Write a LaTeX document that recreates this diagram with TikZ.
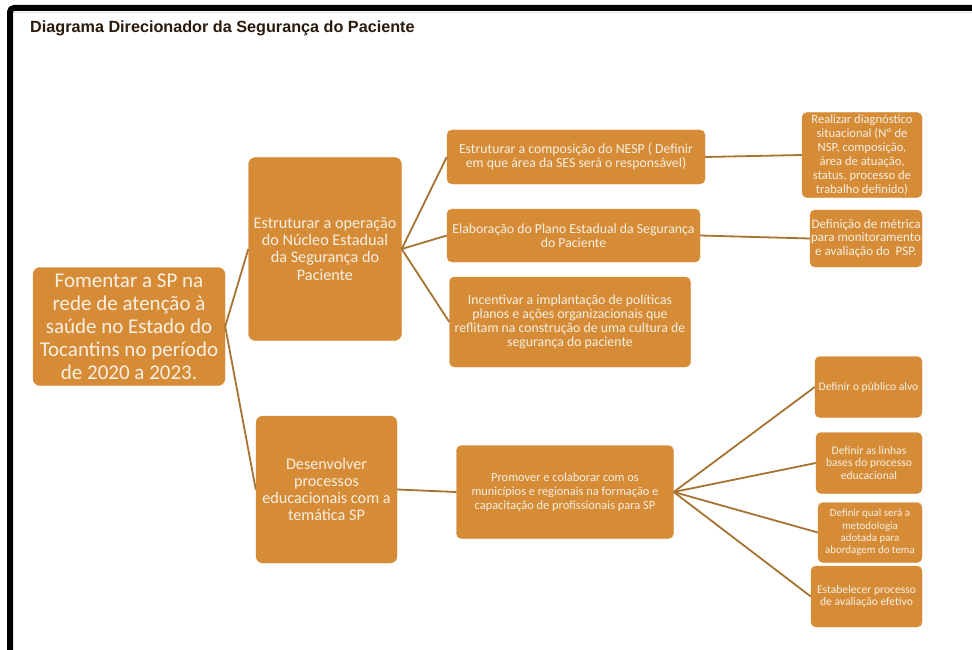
\documentclass[tikz,border=0pt]{standalone}
\usepackage{fontspec}
\setmainfont{Carlito}
\newfontfamily\titlefont{Liberation Sans}
\definecolor{boxfill}{HTML}{D68C37}
\definecolor{boxtext}{HTML}{F6EFE2}
\definecolor{linkcol}{HTML}{A67332}
\definecolor{titlecol}{HTML}{2A1A0C}
\tikzset{
  card/.style={rectangle, fill=boxfill, draw=boxfill, rounded corners=7pt,
    inner sep=0pt, align=center, text=boxtext},
  bigcard/.style={card, font=\fontsize{21}{23}\selectfont},
  midcard/.style={card, font=\fontsize{16.2}{17.2}\selectfont},
  textcard/.style={card, rounded corners=5pt, font=\fontsize{13.8}{14}\selectfont},
  promocard/.style={card, rounded corners=5pt, font=\fontsize{12.4}{14}\selectfont},
  leafcard/.style={card, rounded corners=5pt, font=\fontsize{12.6}{14}\selectfont},
  metrcard/.style={card, rounded corners=5pt, font=\fontsize{13}{13.5}\selectfont},
  tinycard/.style={card, rounded corners=5pt, font=\fontsize{11.6}{12.6}\selectfont},
  methcard/.style={card, rounded corners=5pt, font=\fontsize{10.9}{12.4}\selectfont},
  link/.style={draw=linkcol, line width=1.8pt},
}
\begin{document}
\begin{tikzpicture}[x=1pt, y=-1pt]
\useasboundingbox (0,0) rectangle (972,650);
\fill[white] (0,0) rectangle (972,650);

% frame
\draw[line width=6pt, black, rounded corners=4pt] (10,650) -- (10,8) -- (972,8);
\draw[black!12, line width=0.8pt] (13,12) -- (972,12);

% title
\node[anchor=base west, inner sep=0pt, text=titlecol,
      font=\titlefont\bfseries\fontsize{16.2}{19}\selectfont] (title) at (30,33)
  {Diagrama Direcionador da Segurança do Paciente};

% level 1
\node[bigcard, minimum width=192pt, minimum height=118pt] (root) at (129,326.5)
  {Fomentar a SP na\\rede de atenção à\\saúde no Estado do\\Tocantins no período\\de 2020 a 2023.};

% level 2
\node[midcard, minimum width=153pt, minimum height=183pt] (oper) at (325,249)
  {Estruturar a operação\\do Núcleo Estadual\\da Segurança do\\Paciente};
\node[midcard, minimum width=141pt, minimum height=147pt] (educ) at (326.5,489.5)
  {Desenvolver\\processos\\educacionais com a\\temática SP};

% level 3
\node[textcard, minimum width=258pt, minimum height=54pt] (nesp) at (576,157)
  {Estruturar a composição do NESP ( Definir\\em que área da SES será o responsável)};
\node[textcard, minimum width=253pt, minimum height=53pt] (plano) at (573.5,235.5)
  {Elaboração do Plano Estadual da Segurança\\do Paciente};
\node[textcard, minimum width=241pt, minimum height=90pt] (incent) at (570,322)
  {Incentivar a implantação de políticas\\planos e ações organizacionais que\\reflitam na construção de uma cultura de\\segurança do paciente};
\node[promocard, minimum width=217pt, minimum height=93pt] (promo) at (565,492)
  {Promover e colaborar com os\\municípios e regionais na formação e\\capacitação de profissionais para SP};

% level 4
\node[leafcard, minimum width=120pt, minimum height=85pt] (diag) at (862,155)
  {Realizar diagnóstico\\situacional (Nº de\\NSP, composição,\\área de atuação,\\status, processo de\\trabalho definido)};
\node[metrcard, minimum width=112pt, minimum height=57pt] (metr) at (866,238.5)
  {Definição de métrica\\para monitoramento\\e avaliação do\ \ PSP.};
\node[tinycard, minimum width=107pt, minimum height=61pt] (publ) at (868.5,387)
  {Definir o público alvo};
\node[tinycard, minimum width=106pt, minimum height=61pt] (linh) at (869,463)
  {Definir as linhas\\bases do processo\\educacional};
\node[methcard, minimum width=104pt, minimum height=60pt] (meto) at (870,532.5)
  {Definir qual será a\\metodologia\\adotada para\\abordagem do tema};
\node[tinycard, minimum width=111pt, minimum height=61pt] (aval) at (866.5,596.5)
  {Estabelecer processo\\de avaliação efetivo};

% connectors
\draw[link] (root.east) -- (oper.west);
\draw[link] (root.east) -- (educ.west);
\draw[link] (oper.east) -- (nesp.west);
\draw[link] (oper.east) -- (plano.west);
\draw[link] (oper.east) -- (incent.west);
\draw[link] (educ.east) -- (promo.west);
\draw[link] (nesp.east) -- (diag.west);
\draw[link] (plano.east) -- (metr.west);
\draw[link] (promo.east) -- (publ.west);
\draw[link] (promo.east) -- (linh.west);
\draw[link] (promo.east) -- (meto.west);
\draw[link] (promo.east) -- (aval.west);
\end{tikzpicture}
\end{document}
